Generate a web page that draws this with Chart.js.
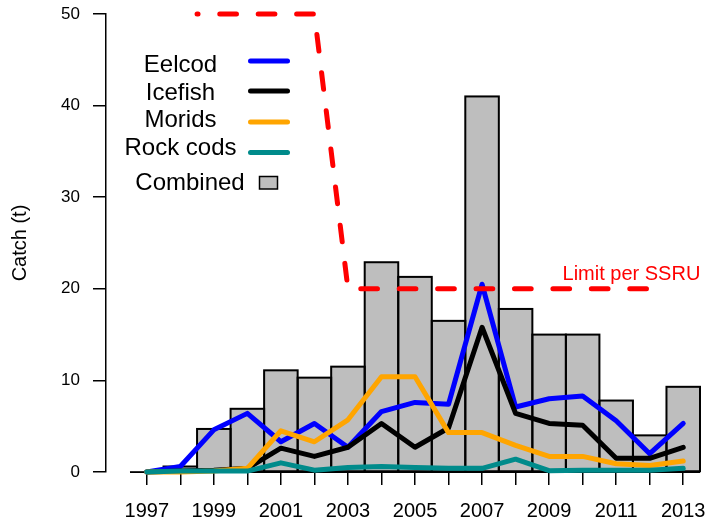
<!DOCTYPE html>
<html>
<head>
<meta charset="utf-8">
<script src="https://cdn.jsdelivr.net/npm/chart.js@4/dist/chart.umd.min.js"></script>
<style>
  html, body { margin: 0; padding: 0; background: #fff; }
  canvas { display: block; }
</style>
</head>
<body>
<canvas id="catchChart" width="708" height="523"></canvas>
<script>
// Annual catch (tonnes) by taxon group, 1997-2013
const years    = [1997, 1998, 1999, 2000, 2001, 2002, 2003, 2004, 2005, 2006, 2007, 2008, 2009, 2010, 2011, 2012, 2013];
const combined = [0, 0.6, 4.7, 6.9, 11.1, 10.3, 11.5, 22.9, 21.3, 16.5, 41.0, 17.8, 15.0, 15.0, 7.8, 4.0, 9.3];
const eelcod   = [0, 0.6, 4.6, 6.4, 3.3, 5.3, 2.7, 6.6, 7.6, 7.4, 20.5, 7.1, 8.0, 8.3, 5.6, 2.0, 5.3];
const icefish  = [0, 0.1, 0.2, 0.4, 2.6, 1.7, 2.7, 5.3, 2.7, 4.8, 15.8, 6.4, 5.3, 5.1, 1.5, 1.5, 2.7];
const morids   = [0, 0, 0.1, 0.4, 4.5, 3.3, 5.7, 10.4, 10.4, 4.3, 4.3, 2.9, 1.7, 1.7, 0.9, 0.7, 1.2];
const rockcods = [0, 0.1, 0.1, 0.1, 1.0, 0.2, 0.5, 0.6, 0.5, 0.4, 0.4, 1.4, 0.15, 0.2, 0.2, 0.2, 0.4];

// Catch limit per SSRU (traced from 2012 back to 1998.5)
const limitYears  = [2012, 2003, 2002, 1998.5];
const limitValues = [20, 20, 50, 50];

const yTicks = [0, 10, 20, 30, 40, 50];
const labelledYears = years.filter(y => y % 2 === 1);

const FONT = '"Liberation Sans", Arial, Helvetica, sans-serif';

const pts = (xs, ys) => xs.map((x, i) => ({ x: x, y: ys[i] }));

function lineSet(label, values, color, order) {
  return {
    type: 'line',
    label: label,
    data: pts(years, values),
    borderColor: color,
    backgroundColor: color,
    borderWidth: 5,
    pointRadius: 0,
    tension: 0,
    borderJoinStyle: 'round',
    borderCapStyle: 'round',
    clip: false,
    order: order,
    inKey: true
  };
}

// Outline each bar with a centred stroke so neighbouring bars share one edge
const barOutline = {
  id: 'barOutline',
  afterDatasetDraw(chart, args) {
    const ds = chart.data.datasets[args.index];
    if (ds.type !== 'bar') return;
    const ctx = chart.ctx;
    ctx.save();
    ctx.strokeStyle = '#000';
    ctx.lineWidth = 2;
    ctx.lineJoin = 'miter';
    args.meta.data.forEach(el => {
      const p = el.getProps(['x', 'y', 'base', 'width'], true);
      if (Math.abs(p.base - p.y) < 0.5) return;
      ctx.strokeRect(p.x - p.width / 2, p.y, p.width, p.base - p.y);
    });
    ctx.restore();
  }
};

// Zero line spanning the bar range
const zeroLine = {
  id: 'zeroLine',
  beforeDatasetsDraw(chart) {
    const xs = chart.scales.x, ys = chart.scales.y;
    const ctx = chart.ctx;
    const y0 = ys.getPixelForValue(0);
    ctx.save();
    ctx.strokeStyle = '#000';
    ctx.lineWidth = 2;
    ctx.beginPath();
    ctx.moveTo(xs.getPixelForValue(years[0] - 0.5), y0);
    ctx.lineTo(xs.getPixelForValue(years[years.length - 1] + 0.5), y0);
    ctx.stroke();
    ctx.restore();
  }
};

// Key in the upper left, plus the limit caption
const keyAndCaption = {
  id: 'keyAndCaption',
  afterDraw(chart) {
    const ctx = chart.ctx;
    ctx.save();
    ctx.font = '24px ' + FONT;
    ctx.textAlign = 'center';
    ctx.textBaseline = 'alphabetic';
    const textBase = [72, 99.5, 127, 154.5];
    const swatchY  = [61, 91, 122, 152.5];
    const series = chart.data.datasets.filter(d => d.inKey);
    series.forEach((d, i) => {
      ctx.fillStyle = '#000';
      ctx.fillText(d.label, 180.5, textBase[i]);
      ctx.strokeStyle = d.borderColor;
      ctx.lineWidth = 5;
      ctx.lineCap = 'round';
      ctx.beginPath();
      ctx.moveTo(250.5, swatchY[i]);
      ctx.lineTo(287.5, swatchY[i]);
      ctx.stroke();
    });
    const bars = chart.data.datasets.find(d => d.type === 'bar');
    ctx.fillStyle = '#000';
    ctx.fillText(bars.label, 190, 190);
    ctx.fillStyle = bars.backgroundColor;
    ctx.fillRect(259.5, 176.5, 18, 12.5);
    ctx.strokeStyle = '#000';
    ctx.lineWidth = 1.5;
    ctx.strokeRect(259.5, 176.5, 18, 12.5);

    const xs = chart.scales.x, ys = chart.scales.y;
    ctx.font = '20px ' + FONT;
    ctx.textAlign = 'left';
    ctx.fillStyle = '#FF0000';
    ctx.fillText('Limit per SSRU', xs.getPixelForValue(2009.4), ys.getPixelForValue(limitValues[0]) - 9);
    ctx.restore();
  }
};

new Chart(document.getElementById('catchChart'), {
  data: {
    datasets: [
      {
        type: 'bar',
        label: 'Combined',
        data: pts(years, combined),
        backgroundColor: '#BEBEBE',
        borderWidth: 0,
        barPercentage: 1,
        categoryPercentage: 1,
        order: 10
      },
      lineSet('Eelcod', eelcod, '#0000FF', 4),
      lineSet('Icefish', icefish, '#000000', 3),
      lineSet('Morids', morids, '#FFA500', 2),
      lineSet('Rock cods', rockcods, '#008B8B', 1),
      {
        type: 'line',
        label: 'Limit per SSRU',
        data: pts(limitYears, limitValues),
        borderColor: '#FF0000',
        borderWidth: 5,
        borderDash: [16.7, 21.73],
        borderDashOffset: 35.2,
        borderCapStyle: 'round',
        borderJoinStyle: 'round',
        pointRadius: 0,
        tension: 0,
        clip: false,
        order: 0
      }
    ]
  },
  options: {
    responsive: false,
    animation: false,
    devicePixelRatio: 1,
    layout: { padding: { top: 14, right: 8, bottom: 0, left: 0 } },
    plugins: { legend: { display: false }, tooltip: { enabled: false } },
    scales: {
      x: {
        type: 'linear',
        min: 1995.784,
        max: 2013.5,
        offset: false,
        afterBuildTicks: s => { s.ticks = years.map(v => ({ value: v })); },
        afterFit: s => { s.height = 51; s.paddingLeft = 0; s.paddingRight = 0; },
        border: { display: false },
        grid: { offset: false, drawOnChartArea: false, drawTicks: true, tickLength: 13, color: '#000', lineWidth: 1.5 },
        ticks: {
          autoSkip: false,
          maxRotation: 0,
          padding: 14,
          color: '#000',
          font: { family: FONT, size: 20 },
          callback: v => (labelledYears.includes(v) ? String(v) : '')
        }
      },
      y: {
        min: 0,
        max: 50,
        afterBuildTicks: s => { s.ticks = yTicks.map(v => ({ value: v })); },
        afterFit: s => { s.width = 106; s.paddingTop = 0; s.paddingBottom = 0; },
        border: { display: true, color: '#000', width: 1.5 },
        grid: { drawOnChartArea: false, drawTicks: true, tickLength: 13, color: '#000', lineWidth: 1.5 },
        ticks: { padding: 13, color: '#000', font: { family: FONT, size: 17 } },
        title: {
          display: true,
          text: 'Catch (t)',
          color: '#000',
          font: { family: FONT, size: 20 },
          padding: { top: 8, bottom: 0 }
        }
      }
    }
  },
  plugins: [zeroLine, barOutline, keyAndCaption]
});
</script>
</body>
</html>
